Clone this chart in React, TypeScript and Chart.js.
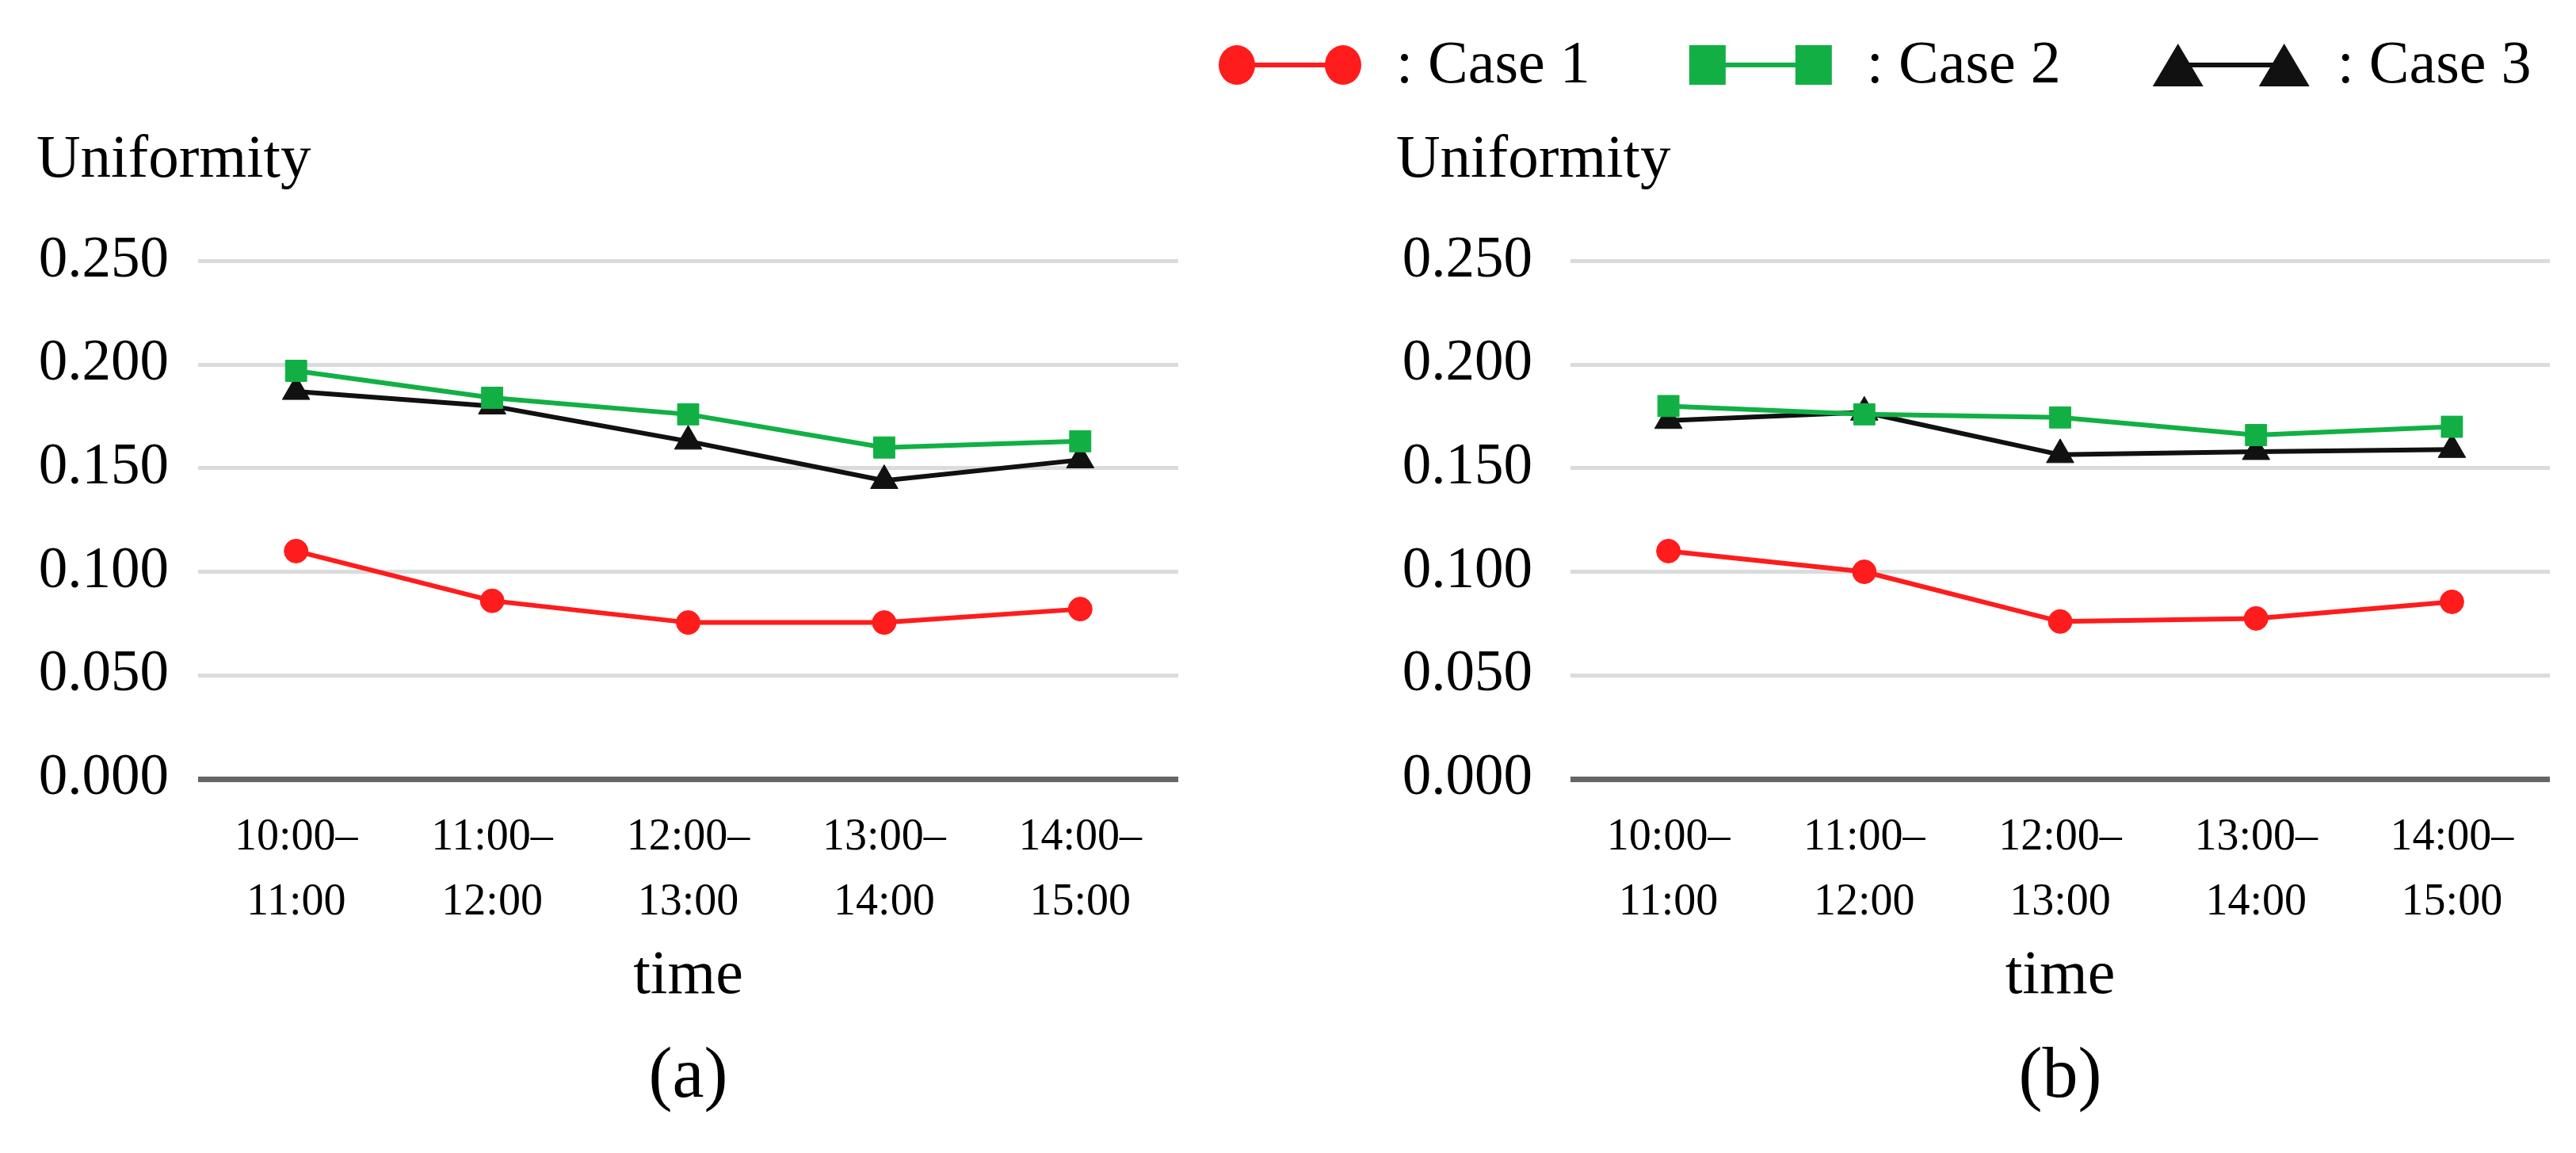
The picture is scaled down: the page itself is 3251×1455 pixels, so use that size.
import React, { useEffect, useRef } from 'react';
import { Chart, registerables } from 'chart.js';

Chart.register(...registerables);

// ---------- data ----------
const categories = [
  ['10:00–', '11:00'],
  ['11:00–', '12:00'],
  ['12:00–', '13:00'],
  ['13:00–', '14:00'],
  ['14:00–', '15:00'],
];
const yTicks = [0, 0.05, 0.1, 0.15, 0.2, 0.25];
const seriesNames = ['Case 1', 'Case 2', 'Case 3'];

// panel (a)
const caseA1 = [0.110, 0.086, 0.0755, 0.0755, 0.082];
const caseA2 = [0.197, 0.184, 0.176, 0.160, 0.163];
const caseA3 = [0.187, 0.180, 0.163, 0.144, 0.154];
// panel (b)
const caseB1 = [0.110, 0.100, 0.076, 0.0775, 0.0855];
const caseB2 = [0.180, 0.176, 0.1745, 0.166, 0.170];
const caseB3 = [0.173, 0.177, 0.1565, 0.158, 0.159];

const panelLabels = ['(a)', '(b)'];
const yAxisLabel = 'Uniformity';
const xAxisLabel = 'time';

// ---------- styles ----------
const SERIF = '"Liberation Serif", "Times New Roman", serif';
const STY = [
  { color: '#ff1c1c', pointStyle: 'circle', radius: 15 },
  { color: '#12b044', pointStyle: 'rect', radius: 19 },
  { color: '#111111', pointStyle: 'triangle', radius: 20 },
];

function drawMarker(ctx: CanvasRenderingContext2D, style: string, cx: number, cy: number) {
  ctx.beginPath();
  if (style === 'circle') {
    ctx.ellipse(cx, cy, 23, 25, 0, 0, Math.PI * 2);
  } else if (style === 'rect') {
    ctx.rect(cx - 23, cy - 25, 46, 50);
  } else {
    ctx.moveTo(cx, cy - 27);
    ctx.lineTo(cx + 32, cy + 27);
    ctx.lineTo(cx - 32, cy + 27);
    ctx.closePath();
  }
  ctx.fill();
}

const legendPlugin = {
  id: 'caseLegend',
  afterDraw(chart: any, _args: any, opts: any) {
    if (!opts || !opts.display) return;
    const ctx = chart.ctx as CanvasRenderingContext2D;
    ctx.save();
    let x = opts.x;
    ctx.font = `${opts.fontSize}px ${SERIF}`;
    ctx.textBaseline = 'middle';
    ctx.textAlign = 'left';
    chart.data.datasets.forEach((ds: any) => {
      const x2 = x + opts.markerSpan;
      ctx.strokeStyle = ds.borderColor;
      ctx.lineWidth = opts.lineWidth;
      ctx.beginPath();
      ctx.moveTo(x, opts.markerY);
      ctx.lineTo(x2, opts.markerY);
      ctx.stroke();
      ctx.fillStyle = ds.backgroundColor;
      drawMarker(ctx, ds.pointStyle, x, opts.markerY);
      drawMarker(ctx, ds.pointStyle, x2, opts.markerY);
      const label = ': ' + ds.label;
      ctx.fillStyle = '#000';
      const tx = x2 + opts.textGap;
      ctx.fillText(label, tx, opts.textY);
      x = tx + ctx.measureText(label).width + opts.itemGap;
    });
    ctx.restore();
  },
};

const GEOM_A = { left: 0, width: 1530, padLeft: 46, padRight: 43, yWidth: 204, tickPad: 37, legend: { display: false } };
const GEOM_B = {
  left: 1530, width: 1721, padLeft: 232, padRight: 33, yWidth: 220, tickPad: 48,
  legend: { display: true, x: 31, markerY: 82, textY: 84, markerSpan: 134, textGap: 67, itemGap: 148, fontSize: 76, lineWidth: 6 },
};

function makeConfig(series: number[][], panel: string, geom: any): any {
  return {
    type: 'line',
    data: {
      labels: categories,
      datasets: series.map((vals, i) => ({
        label: seriesNames[i],
        data: vals,
        borderColor: STY[i].color,
        backgroundColor: STY[i].color,
        pointStyle: STY[i].pointStyle,
        pointRadius: STY[i].radius,
        pointHoverRadius: STY[i].radius,
        pointBorderWidth: 1,
        pointBorderColor: STY[i].color,
        pointBackgroundColor: STY[i].color,
        borderWidth: 6,
        tension: 0,
        fill: false,
      })),
    },
    options: {
      responsive: false,
      animation: false,
      devicePixelRatio: 1,
      layout: { padding: { left: geom.padLeft, right: geom.padRight, top: 0, bottom: 41 } },
      plugins: {
        legend: { display: false },
        tooltip: { enabled: false },
        title: {
          display: true, text: yAxisLabel, align: 'start', color: '#000',
          font: { family: SERIF, size: 77, weight: 'normal', lineHeight: 1.2 },
          padding: { top: 157, bottom: 80 },
        },
        subtitle: {
          display: true, text: panel, position: 'bottom', fullSize: false, color: '#000',
          font: { family: SERIF, size: 90, weight: 'normal', lineHeight: 1.2 },
          padding: { top: 27, bottom: 0 },
        },
        caseLegend: geom.legend,
      },
      scales: {
        x: {
          offset: true,
          grid: { display: false, drawTicks: false },
          border: { display: false },
          ticks: {
            color: '#000', font: { family: SERIF, size: 56, lineHeight: 1.45 },
            padding: 34, maxRotation: 0, minRotation: 0, autoSkip: false,
          },
          title: {
            display: true, text: xAxisLabel, color: '#000',
            font: { family: SERIF, size: 78, lineHeight: 1.2 },
            padding: { top: -28, bottom: 0 },
          },
        },
        y: {
          min: 0, max: 0.25,
          afterBuildTicks: (s: any) => { s.ticks = yTicks.map((v) => ({ value: v })); },
          afterFit: (s: any) => { s.width = geom.yWidth; },
          grid: {
            drawTicks: false,
            color: (c: any) => (c.tick && c.tick.value === 0 ? '#666666' : '#d9dcdc'),
            lineWidth: (c: any) => (c.tick && c.tick.value === 0 ? 7 : 5),
          },
          border: { display: false },
          ticks: {
            color: '#000', font: { family: SERIF, size: 73 }, padding: geom.tickPad,
            callback: (v: any) => Number(v).toFixed(3),
          },
        },
      },
    },
    plugins: [legendPlugin],
  };
}

export default function App() {
  const leftRef = useRef<HTMLCanvasElement>(null);
  const rightRef = useRef<HTMLCanvasElement>(null);

  useEffect(() => {
    document.body.style.margin = '0';
    let charts: Chart[] = [];
    let cancelled = false;
    const build = () => {
      if (cancelled || !leftRef.current || !rightRef.current) return;
      charts.push(new Chart(leftRef.current, makeConfig([caseA1, caseA2, caseA3], panelLabels[0], GEOM_A)));
      charts.push(new Chart(rightRef.current, makeConfig([caseB1, caseB2, caseB3], panelLabels[1], GEOM_B)));
    };
    const fonts = (document as any).fonts;
    if (fonts && fonts.load) {
      fonts.load(`80px "Liberation Serif"`).then(build, build);
    } else {
      build();
    }
    return () => {
      cancelled = true;
      charts.forEach((c) => c.destroy());
      charts = [];
    };
  }, []);

  return (
    <div style={{ position: 'relative', width: 3251, height: 1455, background: '#fff', overflow: 'hidden' }}>
      <canvas ref={leftRef} width={GEOM_A.width} height={1455}
        style={{ position: 'absolute', left: GEOM_A.left, top: 0, width: GEOM_A.width, height: 1455 }} />
      <canvas ref={rightRef} width={GEOM_B.width} height={1455}
        style={{ position: 'absolute', left: GEOM_B.left, top: 0, width: GEOM_B.width, height: 1455 }} />
    </div>
  );
}
